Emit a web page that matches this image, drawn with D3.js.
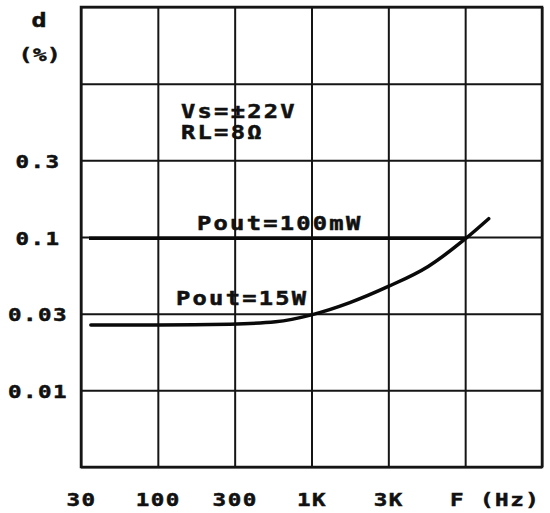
<!DOCTYPE html>
<html>
<head>
<meta charset="utf-8">
<script src="https://cdn.jsdelivr.net/npm/d3@7"></script>
<style>
  html, body { margin: 0; padding: 0; background: #fff; }
  svg { display: block; }
  text { font-family: "DejaVu Sans Mono", monospace; font-weight: bold; fill: #111; stroke: #111; stroke-width: 0.5px; }
</style>
</head>
<body>
<div id="chart"></div>
<script>
// ---- data ----
const xTicks = [30, 100, 300, 1000, 3000, 10000, 30000];
const xTickLabels = ["30", "100", "300", "1K", "3K", "", ""];
const yTicks = [0.003, 0.01, 0.03, 0.1, 0.3, 1, 3];
const yTickLabels = ["", "0.01", "0.03", "0.1", "0.3", "", ""];

const freq15W = [35, 100, 280, 570, 1000, 1730, 3000, 5600, 10000, 14000];
const thd15W  = [0.0255, 0.0255, 0.0258, 0.0267, 0.0295, 0.0357, 0.046, 0.063, 0.097, 0.13];

const freq100mW = [34, 10000];
const thd100mW  = [0.098, 0.098];

const conditions = ["Vs=±22V", "RL=8Ω"];
const seriesLabels = ["Pout=100mW", "Pout=15W"];

// ---- layout ----
const W = 550, H = 513;
const mLeft = 81, mRight = 542, mTop = 7, mBottom = 467;
const pw = mRight - mLeft, ph = mBottom - mTop;
const SX = 1.25; // horizontal stretch of the plotter-style lettering

const svg = d3.select("#chart").append("svg").attr("width", W).attr("height", H);

const x = d3.scaleLog()
  .domain(xTicks)
  .range(xTicks.map((d, i) => mLeft + i * pw / (xTicks.length - 1)));
const y = d3.scaleLog()
  .domain(yTicks)
  .range(yTicks.map((d, i) => mBottom - i * ph / (yTicks.length - 1)));

// vertical grid + x labels
const xAxis = d3.axisBottom(x)
  .tickValues(xTicks)
  .tickSize(-ph)
  .tickPadding(0)
  .tickFormat((d, i) => xTickLabels[i]);
const gx = svg.append("g").attr("transform", `translate(0,${mBottom})`).call(xAxis);
gx.select(".domain").remove();
gx.selectAll(".tick line").attr("stroke", "#151515").attr("stroke-width", 2);
gx.selectAll(".tick text")
  .attr("x", 0).attr("y", 39).attr("dy", null)
  .attr("transform", `scale(${SX},1)`)
  .style("font-size", "18px")
  .style("letter-spacing", "1.2px")
  .attr("fill", "#111");

// horizontal grid + y labels
const yAxis = d3.axisLeft(y)
  .tickValues(yTicks)
  .tickSize(-pw)
  .tickPadding(0)
  .tickFormat((d, i) => yTickLabels[i]);
const gy = svg.append("g").attr("transform", `translate(${mLeft},0)`).call(yAxis);
gy.select(".domain").remove();
gy.selectAll(".tick line").attr("stroke", "#151515").attr("stroke-width", 2);
gy.selectAll(".tick text")
  .attr("x", -43 / SX).attr("dy", "0.4em")
  .attr("text-anchor", "middle")
  .attr("transform", `scale(${SX},1)`)
  .style("font-size", "18px")
  .style("letter-spacing", "1.2px")
  .attr("fill", "#111");

// border
svg.append("rect")
  .attr("x", mLeft).attr("y", mTop).attr("width", pw).attr("height", ph)
  .attr("fill", "none").attr("stroke", "#151515").attr("stroke-width", 2.5);

function label(tx, ty, str, size, spacing, anchor) {
  return svg.append("text")
    .attr("transform", `translate(${tx},${ty}) scale(${SX},1)`)
    .attr("text-anchor", anchor || "start")
    .style("font-size", size + "px")
    .style("letter-spacing", spacing + "px")
    .text(str);
}

// axis titles
label(39, 27, "d", 20, 0, "middle");
label(40, 61, "(%)", 18, 0.5, "middle");
label(450, 506, "F (Hz)", 18, 1.2);

// curves
const line = d3.line().x(d => x(d[0])).y(d => y(d[1])).curve(d3.curveMonotoneX);
svg.append("path")
  .datum(freq100mW.map((f, i) => [f, thd100mW[i]]))
  .attr("d", line).attr("fill", "none").attr("stroke", "#0a0a0a")
  .attr("stroke-width", 3.5);
svg.append("path")
  .datum(freq15W.map((f, i) => [f, thd15W[i]]))
  .attr("d", line).attr("fill", "none").attr("stroke", "#0a0a0a")
  .attr("stroke-width", 3.5).attr("stroke-linecap", "round");

// annotations
label(181, 118, conditions[0], 19, 1.8);
label(181, 139, conditions[1], 19, 1.8);
label(197, 230, seriesLabels[0], 19, 1.8);
label(176, 305, seriesLabels[1], 19, 1.8);
</script>
</body>
</html>
